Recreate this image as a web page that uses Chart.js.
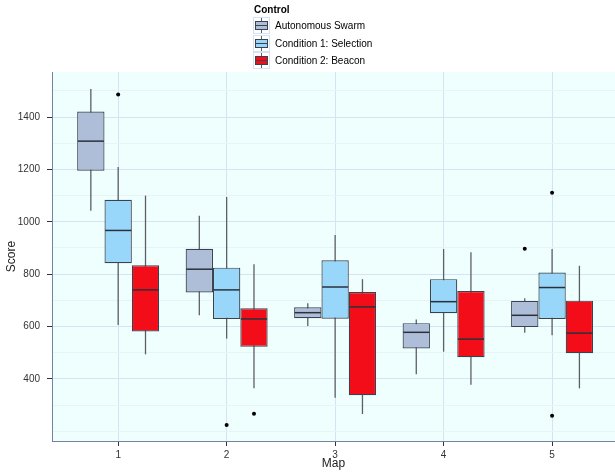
<!DOCTYPE html>
<html>
<head>
<meta charset="utf-8">
<script src="https://cdn.jsdelivr.net/npm/chart.js@4/dist/chart.umd.min.js"></script>
<style>
  html, body { margin: 0; padding: 0; background: #ffffff; }
  #wrap { position: relative; width: 615px; height: 472px; font-family: "Liberation Sans", Arial, sans-serif; }
  #chart { position: absolute; left: 0; top: 0; }
  #legend { position: absolute; left: 253px; top: 3px; font-size: 10px; color: #000; }
  #legend .ttl { font-weight: bold; height: 14px; line-height: 14px; margin-left: 1px; }
  #legend .it { display: flex; align-items: center; height: 17.5px; }
  #legend canvas { margin-right: 5px; }
</style>
</head>
<body>
<div id="wrap">
  <canvas id="chart" width="615" height="472"></canvas>
  <div id="legend"></div>
</div>
<script>
// ---- data ----
const maps = [1, 2, 3, 4, 5];
const seriesNames = ['Autonomous Swarm', 'Condition 1: Selection', 'Condition 2: Beacon'];
const legendTitle = 'Control';
const yTickLabels = [400, 600, 800, 1000, 1200, 1400];
const yGridValues = [200, 300, 400, 500, 600, 700, 800, 900, 1000, 1100, 1200, 1300, 1400, 1500];

const swarmLow    = [1042, 643, 602, 418, 576];
const swarmQ1     = [1195, 730, 632, 516, 598];
const swarmMedian = [1308, 819, 653, 578, 643];
const swarmQ3     = [1421, 897, 674, 613, 698];
const swarmHigh   = [1507, 1023, 689, 627, 708];
const swarmOut    = [[], [], [], [], [897]];

const selectLow    = [606, 554, 328, 504, 567];
const selectQ1     = [842, 629, 630, 651, 629];
const selectMedian = [967, 740, 751, 695, 749];
const selectQ3     = [1084, 825, 853, 781, 806];
const selectHigh   = [1209, 1095, 950, 896, 896];
const selectOut    = [[1486], [224], [], [], [1111, 259]];

const beaconLow    = [494, 364, 266, 378, 364];
const beaconQ1     = [581, 523, 338, 483, 498];
const beaconMedian = [740, 629, 675, 552, 575];
const beaconQ3     = [834, 670, 732, 736, 699];
const beaconHigh   = [1100, 838, 781, 884, 832];
const beaconOut    = [[], [267], [], [], []];

// ---- styles ----
const fills = ['#aebed9', '#98d7f9', '#f20d18'];
const boxBorder = '#3a4250';
const whiskerColor = '#5c5f66';
const panelBg = '#effffd';
const majorGrid = '#d6e3f7';
const minorGrid = '#e6f3f8';
const axisColor = '#7282a0';

function makeDataset(name, idx, lo, q1, med, q3, hi, out) {
  return {
    label: name,
    data: maps.map((m, i) => ({ x: m, y: [q1[i], q3[i]] })),
    backgroundColor: fills[idx],
    borderColor: boxBorder,
    borderWidth: 1.2,
    borderSkipped: false,
    categoryPercentage: 0.756,
    barPercentage: 1.0,
    stats: { lo, med, hi, out }
  };
}

const datasets = [
  makeDataset(seriesNames[0], 0, swarmLow, swarmQ1, swarmMedian, swarmQ3, swarmHigh, swarmOut),
  makeDataset(seriesNames[1], 1, selectLow, selectQ1, selectMedian, selectQ3, selectHigh, selectOut),
  makeDataset(seriesNames[2], 2, beaconLow, beaconQ1, beaconMedian, beaconQ3, beaconHigh, beaconOut)
];

const panelPlugin = {
  id: 'panelBg',
  beforeDraw(chart) {
    const a = chart.chartArea, ctx = chart.ctx;
    ctx.save();
    ctx.fillStyle = panelBg;
    ctx.fillRect(a.left, a.top, a.right - a.left, a.bottom - a.top);
    ctx.restore();
  }
};

const boxPlugin = {
  id: 'boxExtras',
  beforeDatasetsDraw(chart) {
    const ys = chart.scales.y, ctx = chart.ctx;
    ctx.save();
    ctx.strokeStyle = whiskerColor;
    ctx.lineWidth = 1.3;
    chart.data.datasets.forEach((ds, di) => {
      chart.getDatasetMeta(di).data.forEach((bar, i) => {
        ctx.beginPath();
        ctx.moveTo(bar.x, ys.getPixelForValue(ds.stats.lo[i]));
        ctx.lineTo(bar.x, ys.getPixelForValue(ds.stats.hi[i]));
        ctx.stroke();
      });
    });
    ctx.restore();
  },
  afterDatasetsDraw(chart) {
    const ys = chart.scales.y, ctx = chart.ctx;
    ctx.save();
    chart.data.datasets.forEach((ds, di) => {
      chart.getDatasetMeta(di).data.forEach((bar, i) => {
        const w = bar.width / 2;
        const py = ys.getPixelForValue(ds.stats.med[i]);
        ctx.strokeStyle = '#2b313c';
        ctx.lineWidth = 1.5;
        ctx.beginPath();
        ctx.moveTo(bar.x - w + 0.6, py);
        ctx.lineTo(bar.x + w - 0.6, py);
        ctx.stroke();
        ctx.fillStyle = '#000000';
        ds.stats.out[i].forEach(v => {
          ctx.beginPath();
          ctx.arc(bar.x, ys.getPixelForValue(v), 2, 0, Math.PI * 2);
          ctx.fill();
        });
      });
    });
    ctx.restore();
  }
};

const isMajor = v => yTickLabels.includes(Math.round(v));

const chart = new Chart(document.getElementById('chart'), {
  type: 'bar',
  data: { datasets },
  options: {
    responsive: false,
    animation: false,
    layout: { padding: { top: 72, right: 0, bottom: 0, left: 0 } },
    plugins: { legend: { display: false }, tooltip: { enabled: false } },
    scales: {
      x: {
        type: 'linear',
        min: 0.39,
        max: 5.58,
        offset: false,
        afterBuildTicks: s => { s.ticks = maps.map(v => ({ value: v })); },
        ticks: {
          autoSkip: false,
          maxRotation: 0,
          padding: 3,
          color: '#333',
          font: { family: 'Liberation Sans', size: 10 },
          callback: v => String(v)
        },
        grid: { offset: false, color: majorGrid, tickColor: '#333', tickLength: 5, lineWidth: 1 },
        border: { color: axisColor, width: 1 },
        title: { display: true, text: 'Map', color: '#222', font: { family: 'Liberation Sans', size: 12 }, padding: { top: 0, bottom: 1 } },
        afterFit: s => { s.height = 31; }
      },
      y: {
        min: 163,
        max: 1572,
        afterBuildTicks: s => { s.ticks = yGridValues.map(v => ({ value: v })); },
        ticks: {
          autoSkip: false,
          padding: 7,
          color: '#333',
          font: { family: 'Liberation Sans', size: 10 },
          callback: v => (isMajor(v) ? String(Math.round(v)) : '')
        },
        grid: {
          color: c => (c.tick && isMajor(c.tick.value) ? majorGrid : minorGrid),
          tickColor: c => (c.tick && isMajor(c.tick.value) ? '#333' : 'rgba(0,0,0,0)'),
          tickLength: 5,
          lineWidth: 1
        },
        border: { color: axisColor, width: 1 },
        title: { display: true, text: 'Score', color: '#222', font: { family: 'Liberation Sans', size: 12 }, padding: { top: 4, bottom: 0 } },
        afterFit: s => { s.width = 52; }
      }
    }
  },
  plugins: [panelPlugin, boxPlugin]
});

// ---- HTML legend built from the datasets ----
(function buildLegend() {
  const lg = document.getElementById('legend');
  const t = document.createElement('div');
  t.className = 'ttl';
  t.textContent = legendTitle;
  lg.appendChild(t);
  chart.data.datasets.forEach(ds => {
    const row = document.createElement('div');
    row.className = 'it';
    const c = document.createElement('canvas');
    c.width = 17; c.height = 17;
    const g = c.getContext('2d');
    g.fillStyle = '#ffffff'; g.fillRect(0, 0, 17, 17);
    g.strokeStyle = '#d5e2f4'; g.lineWidth = 1; g.strokeRect(0.5, 0.5, 16, 16);
    g.strokeStyle = whiskerColor; g.beginPath(); g.moveTo(8.5, 1); g.lineTo(8.5, 16); g.stroke();
    g.fillStyle = ds.backgroundColor; g.fillRect(2, 4, 13, 9);
    g.strokeStyle = boxBorder; g.strokeRect(2.5, 4.5, 12, 8);
    g.beginPath(); g.moveTo(2.5, 8.5); g.lineTo(14.5, 8.5); g.stroke();
    row.appendChild(c);
    const s = document.createElement('span');
    s.textContent = ds.label;
    row.appendChild(s);
    lg.appendChild(row);
  });
})();
</script>
</body>
</html>
